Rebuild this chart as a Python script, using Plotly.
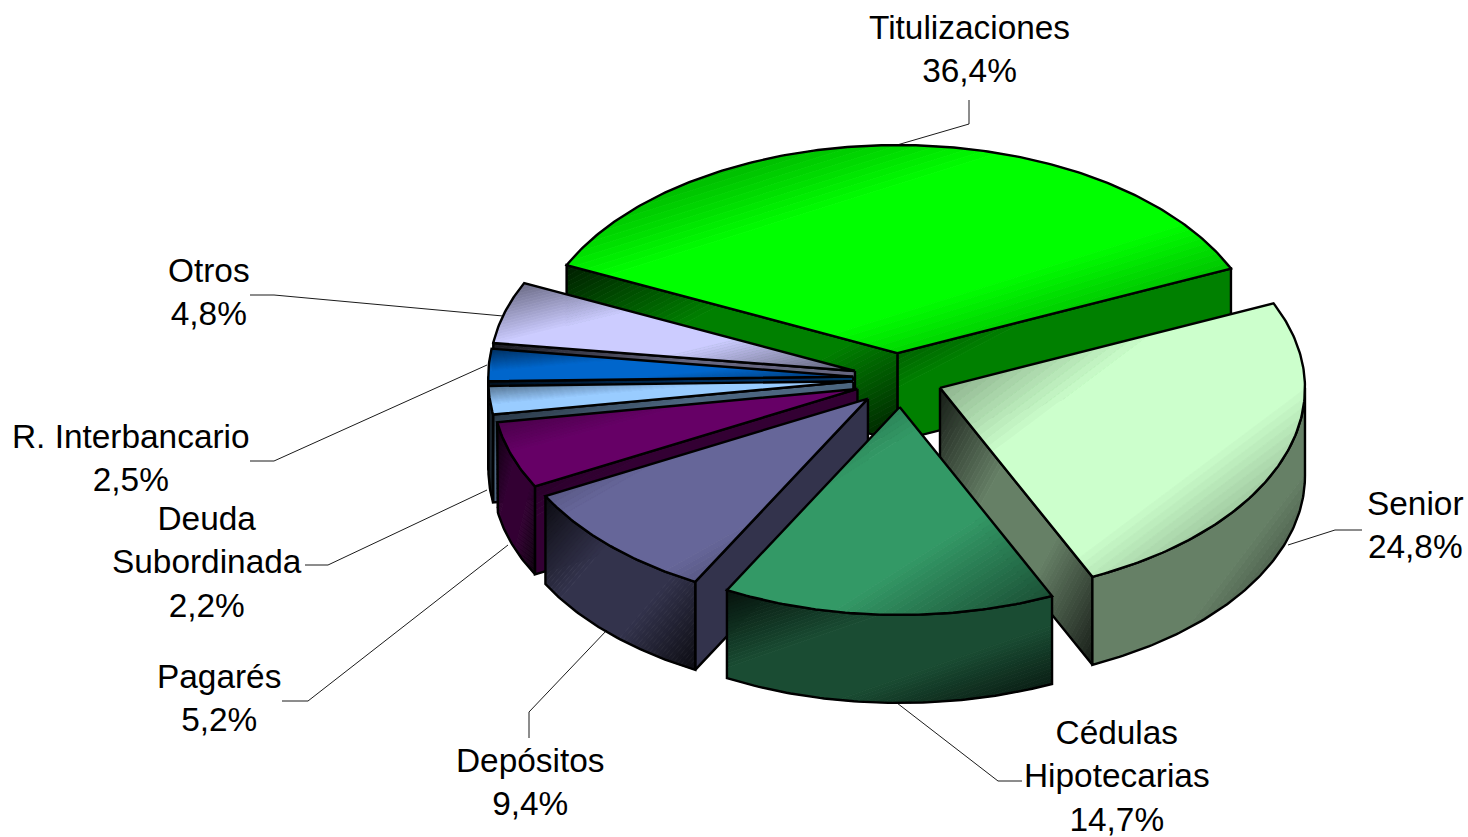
import numpy as np
import plotly.graph_objects as go

# ---- data ----
categories = ["Titulizaciones", "Senior", "Cédulas<br>Hipotecarias", "Depósitos", "Pagarés",
              "Deuda<br>Subordinada", "R. Interbancario", "Otros"]
values = [36.4, 24.8, 14.7, 9.4, 5.2, 2.2, 2.5, 4.8]
colors = ["#00FF00", "#CCFFCC", "#339966", "#666699", "#660066", "#99CCFF", "#0066CC", "#CCCCFF"]

# ---- chart styling / geometry ----
W, H = 1468, 837
CX, CY = 897, 378          # pie centre on the drawing axes
RX, RY = 365, 208          # ellipse of the tilted pie
DEPTH = 88                 # height of the extruded pie
EXPLODE = 0.12
START = 205.0              # first slice start angle, clockwise on screen
BANDS = 64
DRAW_ORDER = [0, 7, 6, 5, 4, 3, 1, 2]
nudge = [(0, 0), (2, 1), (4, 4), (2, 3), (2, 3), (0, 1), (0, 0), (0, 0)]

label_pos = [(969, 49), (1415, 525), (1117, 776), (530, 782), (219, 698), (207, 562), (131, 458), (209, 292)]
leaders = [
    [(897, 145), (969, 124), (969, 100)],
    [(1288, 545), (1335, 530), (1362, 530)],
    [(897, 703), (998, 781), (1022, 781)],
    [(607, 630), (529, 712), (529, 738)],
    [(508, 545), (308, 701), (282, 701)],
    [(487, 490), (328, 565), (305, 565)],
    [(487, 365), (274, 461), (250, 461)],
    [(503, 316), (274, 295), (250, 295)],
]


def rgb(h):
    return np.array([int(h[i:i + 2], 16) for i in (1, 3, 5)], float)


def css(c):
    return "rgb(%d,%d,%d)" % tuple(np.clip(np.round(c), 0, 255))


def clip(poly, nx, ny, d, keep_ge):
    """Keep the part of poly where nx*x+ny*y >= d (or <= d)."""
    s = 1 if keep_ge else -1
    out = []
    n = len(poly)
    for i in range(n):
        p, q = poly[i], poly[(i + 1) % n]
        fp = s * (nx * p[0] + ny * p[1] - d)
        fq = s * (nx * q[0] + ny * q[1] - d)
        if fp >= 0:
            out.append(p)
        if fp * fq < 0:
            u = fp / (fp - fq)
            out.append((p[0] + u * (q[0] - p[0]), p[1] + u * (q[1] - p[1])))
    return out


def shade_at(t, dark):
    return dark + (1 - dark) * min(1.0, min(t, 1 - t) / 0.35)


def add_face(fig, poly, color, dark):
    xs = [p[0] for p in poly]
    ys = [p[1] for p in poly]
    x0, x1, y0, y1 = min(xs), max(xs), min(ys), max(ys)
    w, h = max(x1 - x0, 1), max(y1 - y0, 1)
    if w < 30:                 # very narrow rim pieces render almost black
        color = color * 0.35
    # t = ((x-x0)/w + (y-y0)/h)/2 : diagonal gradient over the bounding box
    nx, ny = 1 / (2 * w), 1 / (2 * h)
    off = x0 * nx + y0 * ny
    # neighbouring bands with the same colour are merged
    runs = []
    for b in range(BANDS):
        t0, t1 = b / BANDS, (b + 1) / BANDS
        c = css(color * shade_at((t0 + t1) / 2, dark))
        if runs and runs[-1][2] == c:
            runs[-1][1] = t1
        else:
            runs.append([t0, t1, c])
    for t0, t1, c in runs:
        part = clip(clip(poly, nx, ny, t0 + off, True), nx, ny, t1 + off, False)
        if len(part) < 3:
            continue
        fig.add_trace(go.Scatter(
            x=[p[0] for p in part] + [part[0][0]], y=[p[1] for p in part] + [part[0][1]],
            mode="lines", fill="toself", fillcolor=c, line=dict(color=c, width=0.8),
            hoverinfo="skip", showlegend=False))


def add_outline(fig, poly):
    fig.add_trace(go.Scatter(
        x=[p[0] for p in poly] + [poly[0][0]], y=[p[1] for p in poly] + [poly[0][1]],
        mode="lines", line=dict(color="black", width=2.4), hoverinfo="skip", showlegend=False))


# slice angles follow from the values
total = sum(values)
spans = [v / total * 360 for v in values]
starts = [START + sum(spans[:i]) for i in range(len(values))]

fig = go.Figure()

for i in DRAW_ORDER:
    a1, a2 = starts[i], starts[i] + spans[i]
    mid = np.radians((a1 + a2) / 2)
    ax = CX + EXPLODE * RX * np.cos(mid) + nudge[i][0]
    ay = CY + EXPLODE * RY * np.sin(mid) + nudge[i][1]
    pt = lambda a: (ax + RX * np.cos(np.radians(a)), ay + RY * np.sin(np.radians(a)))
    col = rgb(colors[i])
    side = col * 0.5
    arc = [pt(a) for a in np.linspace(a1, a2, max(int(spans[i] * 1.5), 6))]
    top = [(ax, ay)] + arc
    down = lambda p: (p[0], p[1] + DEPTH)

    # cut faces that look at the viewer
    faces = []
    if np.cos(np.radians(a2)) > 0:
        faces.append([(ax, ay), arc[-1], down(arc[-1]), (ax, ay + DEPTH)])
    if np.cos(np.radians(a1)) < 0:
        faces.append([(ax, ay), arc[0], down(arc[0]), (ax, ay + DEPTH)])
    # outer wall: the part of the rim on the front half of the pie
    vis = []
    for turn in (0, 360):
        lo, hi = max(a1, turn), min(a2, turn + 180)
        if hi > lo:
            vis.append((lo, hi))
    for lo, hi in vis:
        rim = [pt(a) for a in np.linspace(lo, hi, max(int((hi - lo) * 1.5), 4))]
        faces.append(rim + [down(p) for p in reversed(rim)])

    for f in faces:
        add_face(fig, f, side, 0.22)
        add_outline(fig, f)
    add_face(fig, top, col, 0.45)
    add_outline(fig, top)

# leader lines
for path in leaders:
    fig.add_trace(go.Scatter(x=[p[0] for p in path], y=[p[1] for p in path], mode="lines",
                             line=dict(color="black", width=0.9), hoverinfo="skip", showlegend=False))

# labels
annotations = []
for name, v, (x, y) in zip(categories, values, label_pos):
    pct = f"{v:.1f}%".replace(".", ",")
    annotations.append(dict(
        x=x, y=y, xref="x", yref="y", showarrow=False, xanchor="center", yanchor="middle",
        align="center", text=f"{name}<br>{pct}",
        font=dict(family="Liberation Sans, Arial, sans-serif", size=33.4, color="black")))

fig.update_layout(
    width=W, height=H, margin=dict(l=0, r=0, t=0, b=0),
    paper_bgcolor="white", plot_bgcolor="white", showlegend=False,
    xaxis=dict(range=[0, W], visible=False, fixedrange=True),
    yaxis=dict(range=[H, 0], visible=False, fixedrange=True),
    annotations=annotations)

fig.write_html("out.html", config={"displayModeBar": False},
               post_script="document.body.style.margin='0';document.body.style.overflow='hidden';")
